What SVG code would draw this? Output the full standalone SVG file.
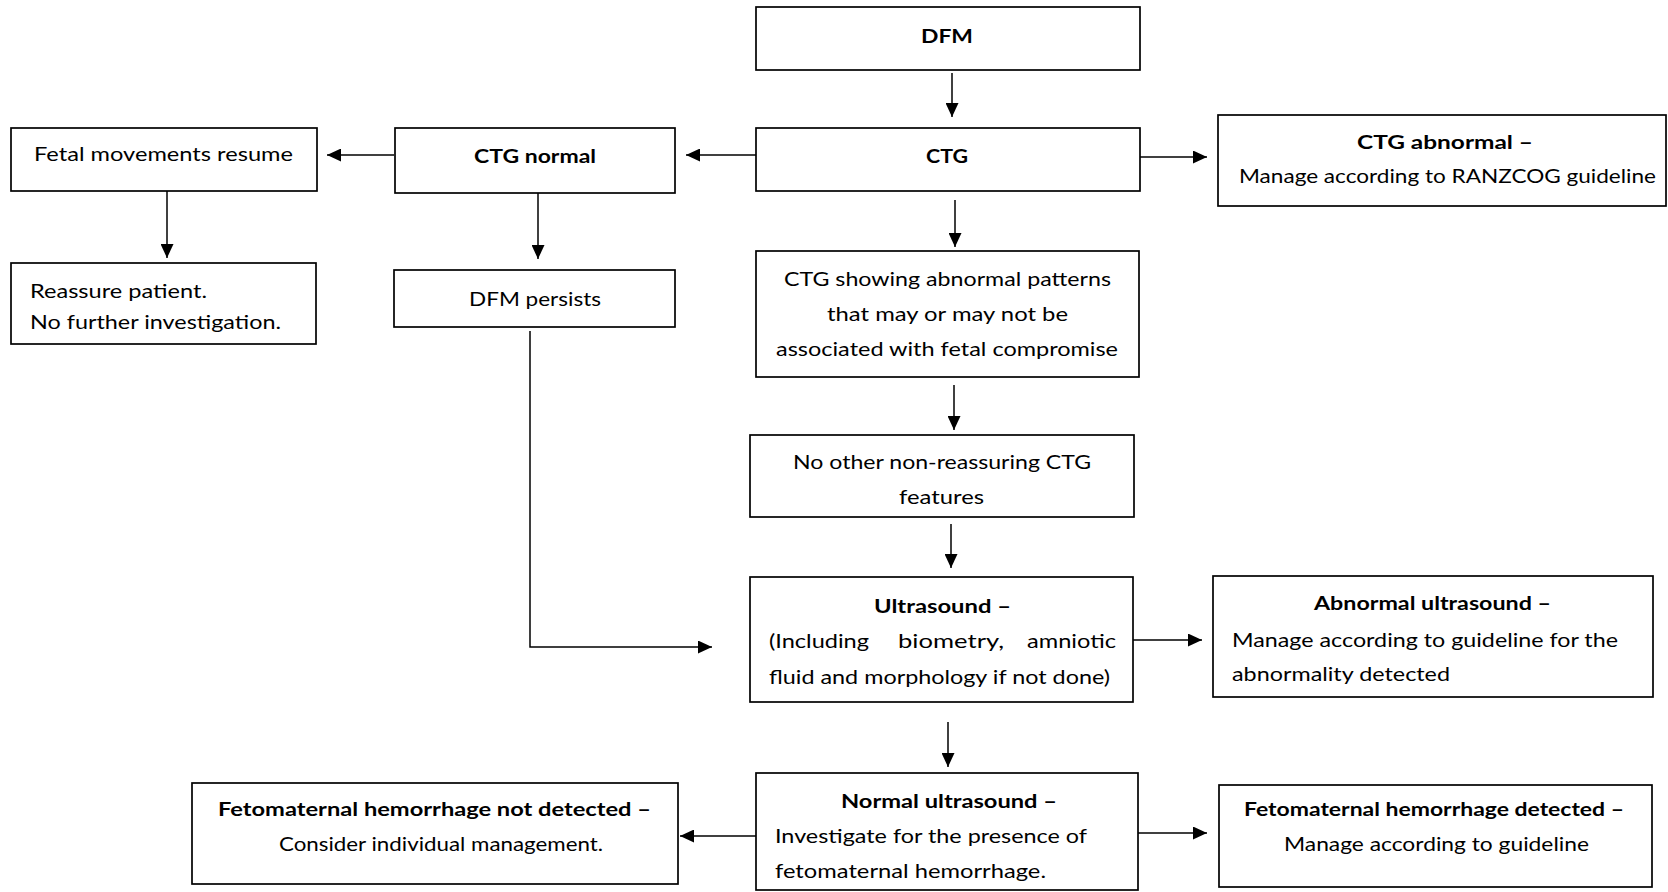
<svg xmlns="http://www.w3.org/2000/svg" width="1668" height="892" viewBox="0 0 1668 892">
<style>
  .box { fill: #ffffff; stroke: #000000; stroke-width: 1.7; }
  .t { font-family: Lato, "Open Sans", "Liberation Sans", sans-serif; font-size: 19px; fill: #000000; }
  .b { font-weight: 700; }
  .c { fill: none; stroke: #000000; stroke-width: 1.5; }
</style>
<defs>
  <marker id="ah" markerUnits="userSpaceOnUse" markerWidth="15" markerHeight="13" refX="14" refY="6.5" orient="auto">
    <path d="M0,0 L14,6.5 L0,13 z" fill="#000000"/>
  </marker>
</defs>
<rect x="0" y="0" width="1668" height="892" fill="#ffffff"/>

<g id="connectors">
  <line class="c" x1="952" y1="73" x2="952" y2="117" marker-end="url(#ah)"/>
  <line class="c" x1="756" y1="155" x2="686" y2="155" marker-end="url(#ah)"/>
  <line class="c" x1="394" y1="155" x2="327" y2="155" marker-end="url(#ah)"/>
  <line class="c" x1="167" y1="191" x2="167" y2="258" marker-end="url(#ah)"/>
  <line class="c" x1="538" y1="193" x2="538" y2="259" marker-end="url(#ah)"/>
  <line class="c" x1="1140" y1="157" x2="1207" y2="157" marker-end="url(#ah)"/>
  <line class="c" x1="955" y1="200" x2="955" y2="247" marker-end="url(#ah)"/>
  <line class="c" x1="954" y1="385" x2="954" y2="430" marker-end="url(#ah)"/>
  <line class="c" x1="951" y1="524" x2="951" y2="568" marker-end="url(#ah)"/>
  <polyline class="c" points="530,331 530,647 712,647" marker-end="url(#ah)"/>
  <line class="c" x1="1133" y1="640" x2="1202" y2="640" marker-end="url(#ah)"/>
  <line class="c" x1="948" y1="722" x2="948" y2="767" marker-end="url(#ah)"/>
  <line class="c" x1="756" y1="836" x2="680" y2="836" marker-end="url(#ah)"/>
  <line class="c" x1="1138" y1="833" x2="1207" y2="833" marker-end="url(#ah)"/>
</g>

<g id="dfm">
  <rect class="box" x="756" y="7" width="384" height="63"/>
  <text class="t b" x="921" y="43" textLength="52" lengthAdjust="spacingAndGlyphs">DFM</text>
</g>
<g id="ctg">
  <rect class="box" x="756" y="128" width="384" height="63"/>
  <text class="t b" x="926" y="163" textLength="42" lengthAdjust="spacingAndGlyphs">CTG</text>
</g>
<g id="ctg-normal">
  <rect class="box" x="395" y="128" width="280" height="65"/>
  <text class="t b" x="474" y="163" textLength="122" lengthAdjust="spacingAndGlyphs">CTG normal</text>
</g>
<g id="fetal-movements">
  <rect class="box" x="11" y="128" width="306" height="63"/>
  <text class="t" x="34" y="161" textLength="259" lengthAdjust="spacingAndGlyphs">Fetal movements resume</text>
</g>
<g id="reassure">
  <rect class="box" x="11" y="263" width="305" height="81"/>
  <text class="t" x="30" y="298" textLength="177" lengthAdjust="spacingAndGlyphs">Reassure patient.</text>
  <text class="t" x="30" y="329" textLength="251" lengthAdjust="spacingAndGlyphs">No further investigation.</text>
</g>
<g id="dfm-persists">
  <rect class="box" x="394" y="270" width="281" height="57"/>
  <text class="t" x="469" y="306" textLength="132" lengthAdjust="spacingAndGlyphs">DFM persists</text>
</g>
<g id="ctg-abnormal">
  <rect class="box" x="1218" y="115" width="448" height="91"/>
  <text class="t b" x="1357" y="149" textLength="176" lengthAdjust="spacingAndGlyphs">CTG abnormal –</text>
  <text class="t" x="1239" y="183" textLength="417" lengthAdjust="spacingAndGlyphs">Manage according to RANZCOG guideline</text>
</g>
<g id="ctg-showing">
  <rect class="box" x="756" y="251" width="383" height="126"/>
  <text class="t" x="784" y="286" textLength="327" lengthAdjust="spacingAndGlyphs">CTG showing abnormal patterns</text>
  <text class="t" x="827" y="321" textLength="241" lengthAdjust="spacingAndGlyphs">that may or may not be</text>
  <text class="t" x="776" y="356" textLength="342" lengthAdjust="spacingAndGlyphs">associated with fetal compromise</text>
</g>
<g id="no-other">
  <rect class="box" x="750" y="435" width="384" height="82"/>
  <text class="t" x="793" y="469" textLength="298" lengthAdjust="spacingAndGlyphs">No other non-reassuring CTG</text>
  <text class="t" x="899" y="504" textLength="85" lengthAdjust="spacingAndGlyphs">features</text>
</g>
<g id="ultrasound">
  <rect class="box" x="750" y="577" width="383" height="125"/>
  <text class="t b" x="874" y="613" textLength="137" lengthAdjust="spacingAndGlyphs">Ultrasound –</text>
  <text class="t" y="648"><tspan x="769" textLength="100" lengthAdjust="spacingAndGlyphs">(Including</tspan> <tspan x="898" textLength="106" lengthAdjust="spacingAndGlyphs">biometry,</tspan> <tspan x="1027" textLength="89" lengthAdjust="spacingAndGlyphs">amniotic</tspan></text>
  <text class="t" x="769" y="684" textLength="341" lengthAdjust="spacingAndGlyphs">fluid and morphology if not done)</text>
</g>
<g id="abnormal-ultrasound">
  <rect class="box" x="1213" y="576" width="440" height="121"/>
  <text class="t b" x="1314" y="610" textLength="237" lengthAdjust="spacingAndGlyphs">Abnormal ultrasound –</text>
  <text class="t" x="1232" y="647" textLength="386" lengthAdjust="spacingAndGlyphs">Manage according to guideline for the</text>
  <text class="t" x="1232" y="681" textLength="218" lengthAdjust="spacingAndGlyphs">abnormality detected</text>
</g>
<g id="normal-ultrasound">
  <rect class="box" x="756" y="773" width="382" height="117"/>
  <text class="t b" x="841" y="808" textLength="216" lengthAdjust="spacingAndGlyphs">Normal ultrasound –</text>
  <text class="t" x="775" y="843" textLength="312" lengthAdjust="spacingAndGlyphs">Investigate for the presence of</text>
  <text class="t" x="775" y="878" textLength="271" lengthAdjust="spacingAndGlyphs">fetomaternal hemorrhage.</text>
</g>
<g id="fmh-not-detected">
  <rect class="box" x="192" y="783" width="486" height="101"/>
  <text class="t b" x="218" y="816" textLength="433" lengthAdjust="spacingAndGlyphs">Fetomaternal hemorrhage not detected –</text>
  <text class="t" x="279" y="851" textLength="324" lengthAdjust="spacingAndGlyphs">Consider individual management.</text>
</g>
<g id="fmh-detected">
  <rect class="box" x="1219" y="785" width="433" height="102"/>
  <text class="t b" x="1244" y="816" textLength="380" lengthAdjust="spacingAndGlyphs">Fetomaternal hemorrhage detected –</text>
  <text class="t" x="1284" y="851" textLength="305" lengthAdjust="spacingAndGlyphs">Manage according to guideline</text>
</g>
</svg>
